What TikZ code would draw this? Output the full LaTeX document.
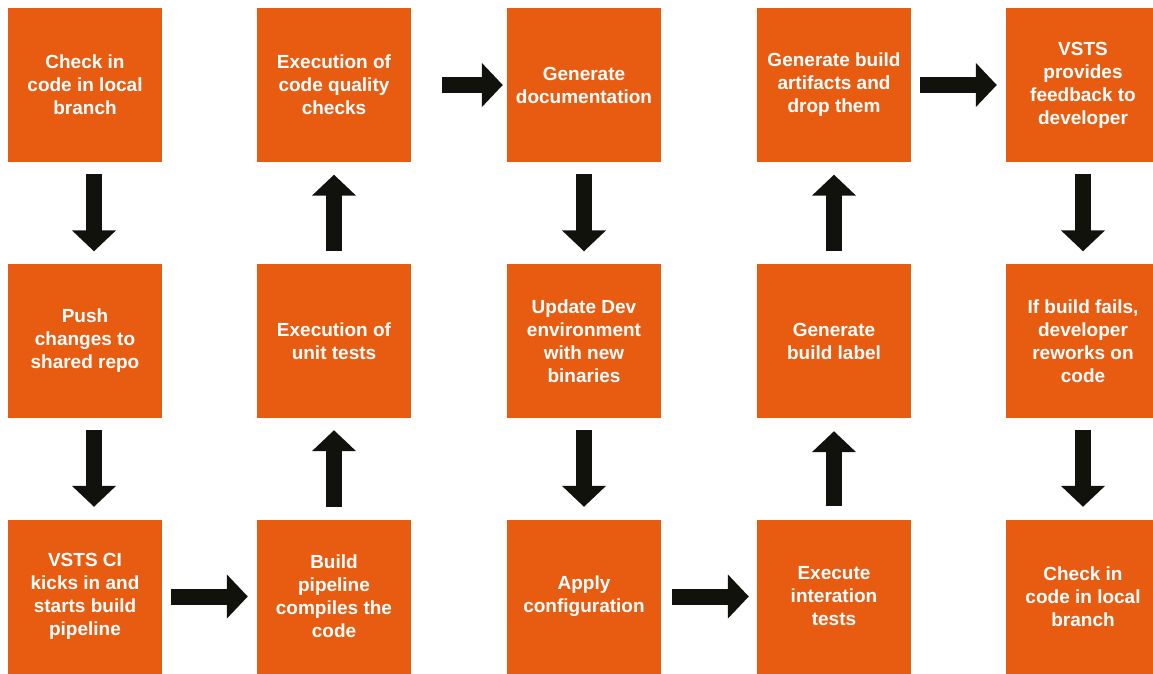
\documentclass[tikz,border=0pt]{standalone}
\usepackage{fontspec}
\setmainfont{Liberation Sans}
\usetikzlibrary{arrows.meta}
\definecolor{boxorange}{HTML}{E85C12}
\definecolor{arrowblack}{HTML}{12120D}

\begin{document}
\begin{tikzpicture}[x=1pt,y=-1pt,
  box/.style={fill=boxorange,text=white,minimum width=154pt,minimum height=154pt,inner sep=0pt,
    align=center,font=\fontsize{19}{23}\selectfont\bfseries},
  fatarrow/.style={draw=arrowblack,line width=16pt,-{Triangle[width=43pt,length=21pt,fill=arrowblack]}}]
\useasboundingbox (0,0) rectangle (1153,673);
\clip (0,0) rectangle (1153,673);
\node[box] (c1r1) at (85,85) {Check in\\code in local\\branch};
\node[box] (c1r2) at (85,341) {Push\\changes to\\shared repo};
\node[box] (c1r3) at (85,596.5) {VSTS CI\\kicks in and\\starts build\\pipeline};
\node[box] (c2r3) at (334,596.5) {Build\\pipeline\\compiles the\\code};
\node[box] (c2r2) at (334,341) {Execution of\\unit tests};
\node[box] (c2r1) at (334,85) {Execution of\\code quality\\checks};
\node[box] (c3r1) at (584,85) {Generate\\documentation};
\node[box] (c3r2) at (584,341) {Update Dev\\environment\\with new\\binaries};
\node[box] (c3r3) at (584,596.5) {Apply\\configuration};
\node[box] (c4r3) at (834,596.5) {Execute\\interation\\tests};
\node[box] (c4r2) at (834,341) {Generate\\build label};
\node[box] (c4r1) at (834,85) {Generate build\\artifacts and\\drop them};
\node[box] (c5r1) at (1083,85) {VSTS\\provides\\feedback to\\developer};
\node[box] (c5r2) at (1083,341) {If build fails,\\developer\\reworks on\\code};
\node[box] (c5r3) at (1083,596.5) {Check in\\code in local\\branch};
\draw[fatarrow,shorten <=12pt,shorten >=12.5pt] ([xshift=9pt]c1r1.south) -- ([xshift=9pt]c1r2.north);
\draw[fatarrow,shorten <=12pt,shorten >=12.5pt] ([xshift=9pt]c1r2.south) -- ([xshift=9pt]c1r3.north);
\draw[fatarrow,shorten <=9pt,shorten >=9pt] (c1r3.east) -- (c2r3.west);
\draw[fatarrow,shorten <=12.5pt,shorten >=12pt] (c2r3.north) -- (c2r2.south);
\draw[fatarrow,shorten <=12.5pt,shorten >=12.5pt] (c2r2.north) -- (c2r1.south);
\draw[fatarrow,shorten <=31pt,shorten >=4pt] (c2r1.east) -- (c3r1.west);
\draw[fatarrow,shorten <=12pt,shorten >=12.5pt] (c3r1.south) -- (c3r2.north);
\draw[fatarrow,shorten <=12pt,shorten >=12.5pt] (c3r2.south) -- (c3r3.north);
\draw[fatarrow,shorten <=11pt,shorten >=8pt] (c3r3.east) -- (c4r3.west);
\draw[fatarrow,shorten <=13pt,shorten >=13pt] (c4r3.north) -- (c4r2.south);
\draw[fatarrow,shorten <=12.5pt,shorten >=12.5pt] (c4r2.north) -- (c4r1.south);
\draw[fatarrow,shorten <=9pt,shorten >=9pt] (c4r1.east) -- (c5r1.west);
\draw[fatarrow,shorten <=12pt,shorten >=12.5pt] (c5r1.south) -- (c5r2.north);
\draw[fatarrow,shorten <=12pt,shorten >=12.5pt] (c5r2.south) -- (c5r3.north);
\end{tikzpicture}
\end{document}
